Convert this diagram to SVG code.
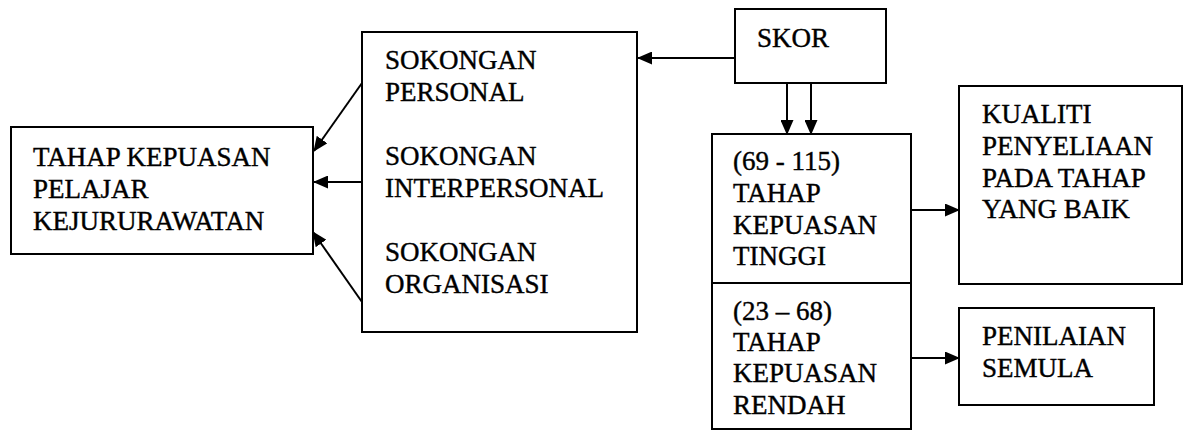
<svg xmlns="http://www.w3.org/2000/svg" width="1184" height="431" viewBox="0 0 1184 431">
<defs>
<style>
.box{fill:#fff;stroke:#000;stroke-width:2}
.t{font-family:"Liberation Serif","Times New Roman",serif;font-size:27px;fill:#000;stroke:#000;stroke-width:0.4}
.c{stroke:#000;stroke-width:2;fill:none;marker-end:url(#ah)}
</style>
<marker id="ah" markerWidth="15" markerHeight="13" refX="14" refY="6.5" orient="auto" markerUnits="userSpaceOnUse">
<path d="M0,0 L15,6.5 L0,13 Z" fill="#000"/>
</marker>
</defs>
<rect width="1184" height="431" fill="#fff"/>
<g id="tahap">
<rect class="box" x="11" y="127" width="302" height="127"/>
<text class="t" x="33" y="166">TAHAP KEPUASAN</text>
<text class="t" x="33" y="198">PELAJAR</text>
<text class="t" x="33" y="230">KEJURURAWATAN</text>
</g>
<g id="sokongan">
<rect class="box" x="362" y="32" width="275" height="300"/>
<text class="t" x="385" y="69">SOKONGAN</text>
<text class="t" x="385" y="101">PERSONAL</text>
<text class="t" x="385" y="165">SOKONGAN</text>
<text class="t" x="385" y="197">INTERPERSONAL</text>
<text class="t" x="385" y="261">SOKONGAN</text>
<text class="t" x="385" y="293">ORGANISASI</text>
</g>
<g id="skor">
<rect class="box" x="735" y="9" width="151" height="74"/>
<text class="t" x="757" y="47">SKOR</text>
</g>
<g id="tinggi">
<rect class="box" x="712" y="134" width="199" height="149"/>
<text class="t" x="733" y="170">(69 - 115)</text>
<text class="t" x="733" y="202">TAHAP</text>
<text class="t" x="733" y="234">KEPUASAN</text>
<text class="t" x="733" y="265">TINGGI</text>
</g>
<g id="rendah">
<rect class="box" x="712" y="283" width="199" height="146"/>
<text class="t" x="733" y="320">(23 – 68)</text>
<text class="t" x="733" y="351">TAHAP</text>
<text class="t" x="733" y="382">KEPUASAN</text>
<text class="t" x="733" y="414">RENDAH</text>
</g>
<g id="kualiti">
<rect class="box" x="959" y="86" width="223" height="198"/>
<text class="t" x="982" y="123">KUALITI</text>
<text class="t" x="982" y="155">PENYELIAAN</text>
<text class="t" x="982" y="187">PADA TAHAP</text>
<text class="t" x="982" y="218">YANG BAIK</text>
</g>
<g id="penilaian">
<rect class="box" x="959" y="308" width="195" height="97"/>
<text class="t" x="982" y="345">PENILAIAN</text>
<text class="t" x="982" y="377">SEMULA</text>
</g>
<g id="connectors">
<line class="c" x1="362" y1="83" x2="314" y2="151"/>
<line class="c" x1="362" y1="182" x2="314" y2="182"/>
<line class="c" x1="362" y1="302" x2="313" y2="232"/>
<line class="c" x1="735" y1="58" x2="638" y2="58"/>
<line class="c" x1="787" y1="83" x2="787" y2="134"/>
<line class="c" x1="811" y1="83" x2="811" y2="134"/>
<line class="c" x1="911" y1="210" x2="959" y2="210"/>
<line class="c" x1="911" y1="358" x2="959" y2="358"/>
</g>
</svg>
